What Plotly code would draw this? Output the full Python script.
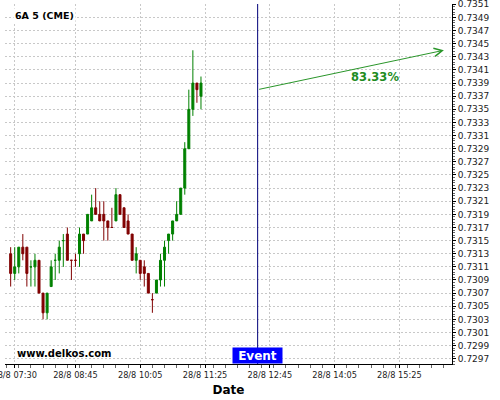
import plotly.graph_objects as go

DAY = "2018-08-28"

# 5-minute bars, 6A futures
bar_times = [
    "07:25", "07:30", "07:35", "07:40", "07:45", "07:50", "07:55",
    "08:00", "08:05", "08:10", "08:15", "08:20", "08:25", "08:30",
    "08:35", "08:40", "08:45", "08:50", "08:55", "09:00", "09:05",
    "09:10", "09:15", "09:20", "09:25", "09:30", "09:35", "09:40",
    "09:45", "09:50", "09:55", "10:00", "10:05", "10:10", "10:15",
    "10:20", "10:25", "10:30", "10:35", "10:40", "10:45", "10:50",
    "10:55", "11:00", "11:05", "11:10", "11:15", "11:20",
]
opens = [
    0.7313, 0.7310, 0.7311, 0.7314, 0.7314, 0.7311, 0.7311, 0.7312,
    0.7307, 0.7304, 0.7308, 0.7312, 0.7312, 0.7315, 0.7316, 0.7312,
    0.7312, 0.7313, 0.7316, 0.7316, 0.7318, 0.7320, 0.7319, 0.7319,
    0.7318, 0.7317, 0.7318, 0.7322, 0.7320, 0.7318, 0.7316, 0.7312,
    0.7312, 0.7311, 0.7310, 0.7306, 0.7307, 0.7309, 0.7312, 0.7315,
    0.7316, 0.7318, 0.7319, 0.7323, 0.7329, 0.7335, 0.7339, 0.7337,
]
highs = [
    0.7314, 0.7314, 0.7314, 0.7316, 0.7314, 0.7312, 0.7313, 0.7312,
    0.7307, 0.7307, 0.7312, 0.7313, 0.7315, 0.7316, 0.7317, 0.7312,
    0.7313, 0.7317, 0.7316, 0.7319, 0.7322, 0.7323, 0.7321, 0.7321,
    0.7318, 0.7320, 0.7323, 0.7322, 0.7320, 0.7319, 0.7316, 0.7314,
    0.7312, 0.7312, 0.7310, 0.7307, 0.7309, 0.7313, 0.7315, 0.7316,
    0.7318, 0.7321, 0.7323, 0.7330, 0.7338, 0.7344, 0.7339, 0.7340,
]
lows = [
    0.7308, 0.7309, 0.7310, 0.7312, 0.7308, 0.7308, 0.7308, 0.7307,
    0.7303, 0.7303, 0.7308, 0.7309, 0.7310, 0.7311, 0.7312, 0.7309,
    0.7311, 0.7311, 0.7313, 0.7316, 0.7318, 0.7319, 0.7318, 0.7315,
    0.7315, 0.7317, 0.7318, 0.7319, 0.7317, 0.7316, 0.7312, 0.7310,
    0.7309, 0.7308, 0.7307, 0.7304, 0.7307, 0.7308, 0.7308, 0.7313,
    0.7315, 0.7318, 0.7319, 0.7322, 0.7329, 0.7334, 0.7336, 0.7335,
]
closes = [
    0.7310, 0.7311, 0.7314, 0.7313, 0.7310, 0.7311, 0.7312, 0.7307,
    0.7304, 0.7307, 0.7311, 0.7312, 0.7314, 0.7315, 0.7312, 0.7312,
    0.7312, 0.7316, 0.7315, 0.7319, 0.7320, 0.7319, 0.7318, 0.7318,
    0.7317, 0.7317, 0.7322, 0.7319, 0.7317, 0.7316, 0.7312, 0.7313,
    0.7310, 0.7310, 0.7307, 0.7306, 0.7309, 0.7312, 0.7314, 0.7316,
    0.7318, 0.7319, 0.7323, 0.7329, 0.7335, 0.7339, 0.7338, 0.7339,
]

tick_times = ["07:30", "08:45", "10:05", "11:25", "12:45", "14:05", "15:25"]
tick_labels = ["28/8 " + t for t in tick_times]

event_time = "12:30"
arrow_start_price = 0.7338
arrow_end_time = "16:20"
arrow_end_price = 0.7344
forecast_label = "83.33%"
label_time = "14:55"
label_price = 0.7340

x_window = ["07:18", "16:30"]
y_window = [0.72962, 0.735105]

FONT = "DejaVu Sans"
GREEN = "#008000"
RED = "#800000"
GRID = "#c8c8c8"


def stamp(hhmm):
    return f"{DAY} {hhmm}"


fig = go.Figure()

fig.add_trace(
    go.Candlestick(
        x=[stamp(t) for t in bar_times],
        open=opens,
        high=highs,
        low=lows,
        close=closes,
        increasing={"line": {"color": GREEN, "width": 1}, "fillcolor": GREEN},
        decreasing={"line": {"color": RED, "width": 1}, "fillcolor": RED},
        whiskerwidth=0,
        showlegend=False,
        hoverinfo="skip",
    )
)

# event marker
fig.add_shape(
    type="line",
    xref="x",
    yref="paper",
    x0=stamp(event_time),
    x1=stamp(event_time),
    y0=0,
    y1=1,
    line={"color": "#00007a", "width": 1},
)
fig.add_annotation(
    x=stamp(event_time),
    xref="x",
    y=0,
    yref="paper",
    yanchor="bottom",
    text="Event",
    showarrow=False,
    bgcolor="#0000ff",
    width=47,
    height=13,
    borderpad=1,
    font={"family": FONT, "size": 12, "color": "white", "weight": "bold"},
)

# forecast arrow
fig.add_annotation(
    x=stamp(arrow_end_time),
    y=arrow_end_price,
    ax=stamp(event_time),
    ay=arrow_start_price,
    xref="x",
    yref="y",
    axref="x",
    ayref="y",
    text="",
    showarrow=True,
    arrowhead=5,
    arrowsize=1.6,
    arrowwidth=1,
    arrowcolor="#2a962a",
)
fig.add_annotation(
    x=stamp(label_time),
    y=label_price,
    text=forecast_label,
    showarrow=False,
    font={"family": FONT, "size": 11.5, "color": "#1e8c1e", "weight": "bold"},
)

fig.add_annotation(
    x=0.0172,
    y=0.968,
    xref="paper",
    yref="paper",
    xanchor="left",
    yanchor="middle",
    text="6A 5 (CME)",
    showarrow=False,
    bgcolor="white",
    font={"family": FONT, "size": 9.5, "color": "black", "weight": "bold"},
)
fig.add_annotation(
    x=0.0224,
    y=0.028,
    xref="paper",
    yref="paper",
    xanchor="left",
    yanchor="middle",
    text="www.delkos.com",
    showarrow=False,
    font={"family": FONT, "size": 10, "color": "black", "weight": "bold"},
)

fig.update_layout(
    width=500,
    height=400,
    margin={"l": 5, "r": 48, "t": 4, "b": 36},
    paper_bgcolor="white",
    plot_bgcolor="white",
    font={"family": FONT, "color": "#222222"},
    xaxis={
        "type": "date",
        "range": [stamp(x_window[0]), stamp(x_window[1])],
        "rangeslider": {"visible": False},
        "tickmode": "array",
        "tickvals": [stamp(t) for t in tick_times],
        "ticktext": tick_labels,
        "ticklabeloverflow": "allow",
        "tickfont": {"family": FONT, "size": 8.2, "color": "#222222"},
        "ticks": "outside",
        "ticklen": 3,
        "tickcolor": "black",
        "showline": True,
        "linecolor": "black",
        "linewidth": 1,
        "showgrid": True,
        "gridcolor": GRID,
        "griddash": "2px,2px",
        "gridwidth": 1,
        "zeroline": False,
        "automargin": False,
        "minor": {
            "dtick": 15 * 60 * 1000,
            "tick0": stamp("07:20"),
            "ticks": "outside",
            "ticklen": 3,
            "tickcolor": "#666666",
            "showgrid": False,
        },
        "title": {
            "text": "Date",
            "font": {"family": FONT, "size": 12, "color": "black", "weight": "bold"},
            "standoff": 6,
        },
    },
    yaxis={
        "side": "right",
        "range": y_window,
        "tickmode": "linear",
        "tick0": 0.7297,
        "dtick": 0.0002,
        "tickformat": ".4f",
        "ticklabeloverflow": "allow",
        "tickfont": {"family": FONT, "size": 9, "color": "#222222"},
        "ticks": "outside",
        "ticklen": 3,
        "tickcolor": "black",
        "showline": True,
        "linecolor": "black",
        "linewidth": 1,
        "showgrid": True,
        "gridcolor": GRID,
        "griddash": "2px,2px",
        "gridwidth": 1,
        "zeroline": False,
        "automargin": False,
        "minor": {
            "dtick": 0.00004,
            "tick0": 0.7297,
            "ticks": "outside",
            "ticklen": 2,
            "tickcolor": "#666666",
            "showgrid": False,
        },
    },
)

# drop the default page margin so the 500x400 figure fills the window
fig.write_html(
    "out.html",
    config={"displayModeBar": False},
    post_script="document.body.style.margin = '0';",
)
